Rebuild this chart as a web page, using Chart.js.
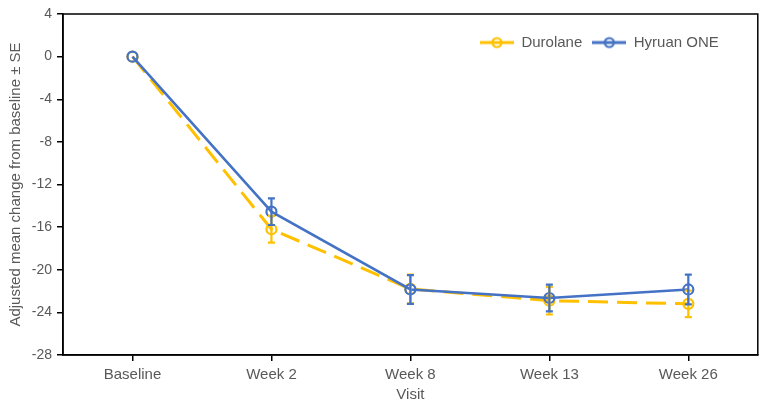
<!DOCTYPE html>
<html>
<head>
<meta charset="utf-8">
<script src="https://cdn.jsdelivr.net/npm/chart.js@4/dist/chart.umd.min.js"></script>
<style>
html, body { margin: 0; padding: 0; background: #fff; }
#wrap { width: 765px; height: 407px; }
</style>
</head>
<body>
<div id="wrap"><canvas id="canvas"></canvas></div>
<script>
var visits = ["Baseline", "Week 2", "Week 8", "Week 13", "Week 26"];
var durolane = [0, -16.2, -21.8, -22.9, -23.2];
var durolaneSE = [0, 1.25, 1.35, 1.3, 1.25];
var hyruan = [0, -14.55, -21.85, -22.65, -21.85];
var hyruanSE = [0, 1.25, 1.35, 1.25, 1.4];

var yellow = "#FFC000";
var blue = "#4472C4";
var grey = "#595959";

function makeMarker(color) {
    var c = document.createElement("canvas");
    c.width = 34; c.height = 14;
    var ctx = c.getContext("2d");
    ctx.strokeStyle = color;
    ctx.lineWidth = 3;
    ctx.beginPath(); ctx.moveTo(0, 7); ctx.lineTo(34, 7); ctx.stroke();
    ctx.lineWidth = 2.2;
    ctx.beginPath(); ctx.arc(17, 7, 4.5, 0, Math.PI * 2); ctx.stroke();
    return c;
}

// error bars from the se arrays, through the y scale
var errorBars = {
    id: "errorBars",
    afterDatasetsDraw: function(chart) {
        var ctx = chart.ctx;
        var y = chart.scales.y;
        [1, 0].forEach(function(di) {
            var ds = chart.data.datasets[di];
            var meta = chart.getDatasetMeta(di);
            ctx.save();
            ctx.strokeStyle = ds.borderColor;
            ctx.lineWidth = 2.2;
            ds.se.forEach(function(se, i) {
                if (!se) return;
                var px = meta.data[i].x;
                var top = y.getPixelForValue(ds.data[i] + se);
                var bot = y.getPixelForValue(ds.data[i] - se);
                ctx.beginPath();
                ctx.moveTo(px, top); ctx.lineTo(px, bot);
                ctx.moveTo(px - 3.5, top); ctx.lineTo(px + 3.5, top);
                ctx.moveTo(px - 3.5, bot); ctx.lineTo(px + 3.5, bot);
                ctx.stroke();
            });
            ctx.restore();
        });
    }
};

// box round the plot
var frame = {
    id: "frame",
    afterDraw: function(chart) {
        var a = chart.chartArea, ctx = chart.ctx;
        ctx.save();
        ctx.strokeStyle = "#000";
        ctx.lineWidth = 1.5;
        ctx.strokeRect(a.left, a.top, a.right - a.left, a.bottom - a.top);
        ctx.restore();
    }
};

// legend takes no room, then gets moved inside the top right of the plot
var legendInside = {
    id: "legendInside",
    afterLayout: function(chart) {
        var lg = chart.legend, a = chart.chartArea;
        lg.top = a.top + 11;
        lg.bottom = lg.top + 40;
        lg.height = 40;
        lg.right = a.right - 29;
        lg.width = lg.right - lg.left;
    }
};

new Chart("canvas", {
    type: "line",
    data: {
        labels: visits,
        datasets: [{
            label: "Hyruan ONE",
            data: hyruan,
            se: hyruanSE,
            borderColor: blue,
            backgroundColor: "transparent",
            borderWidth: 2.5,
            pointRadius: 5,
            pointBorderWidth: 2.2,
            pointBackgroundColor: "transparent",
            pointBorderColor: blue
        }, {
            label: "Durolane",
            data: durolane,
            se: durolaneSE,
            borderColor: yellow,
            backgroundColor: "transparent",
            borderWidth: 3,
            borderDash: [20, 9],
            pointRadius: 5,
            pointBorderWidth: 2.2,
            pointBackgroundColor: "transparent",
            pointBorderColor: yellow
        }]
    },
    options: {
        responsive: true,
        maintainAspectRatio: false,
        animation: false,
        layout: { padding: { top: 14, right: 6, left: 0, bottom: 0 } },
        plugins: {
            tooltip: { enabled: false },
            legend: {
                position: "top",
                align: "end",
                reverse: true,
                maxHeight: 0.001,
                labels: {
                    usePointStyle: true,
                    pointStyleWidth: 34,
                    color: grey,
                    padding: 10,
                    font: { family: "Liberation Sans", size: 15 },
                    generateLabels: function(chart) {
                        var items = Chart.defaults.plugins.legend.labels.generateLabels(chart);
                        items.forEach(function(it) {
                            it.pointStyle = makeMarker(chart.data.datasets[it.datasetIndex].borderColor);
                        });
                        return items;
                    }
                }
            }
        },
        scales: {
            x: {
                offset: true,
                afterFit: function(s) { s.height = 52; },
                grid: { offset: false, drawOnChartArea: false, drawTicks: true, tickLength: 6, color: "#000", lineWidth: 1.5 },
                border: { color: "#000", width: 1.5 },
                ticks: { color: grey, padding: 5, font: { family: "Liberation Sans", size: 15 } },
                title: { display: true, text: "Visit", color: grey, padding: { top: 0, bottom: 3 }, font: { family: "Liberation Sans", size: 15 } }
            },
            y: {
                min: -28,
                max: 4,
                afterFit: function(s) { s.width = 63; },
                grid: { drawOnChartArea: false, drawTicks: true, tickLength: 6, color: "#000", lineWidth: 1.5 },
                border: { color: "#000", width: 1.5 },
                ticks: { stepSize: 4, color: grey, padding: 5, font: { family: "Liberation Sans", size: 14 } },
                title: { display: true, text: "Adjusted mean change from baseline ± SE", color: grey, padding: { top: 7, bottom: 0 }, font: { family: "Liberation Sans", size: 15 } }
            }
        }
    },
    plugins: [errorBars, frame, legendInside]
});
</script>
</body>
</html>
